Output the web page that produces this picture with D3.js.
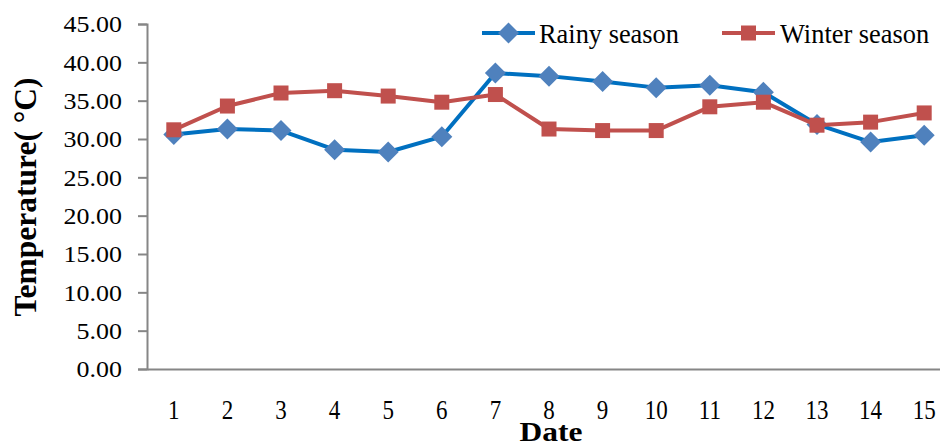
<!DOCTYPE html>
<html>
<head>
<meta charset="utf-8">
<script src="https://cdn.jsdelivr.net/npm/d3@7"></script>
<style>
  html, body { margin: 0; padding: 0; background: #fff; }
  svg { display: block; font-family: "Liberation Serif", "Times New Roman", serif; }
</style>
</head>
<body>
<svg id="chart" width="940" height="446"></svg>
<script>
// Daily temperature, rainy vs winter season
const dates = [1, 2, 3, 4, 5, 6, 7, 8, 9, 10, 11, 12, 13, 14, 15];
const rainy = [30.6, 31.3, 31.1, 28.6, 28.3, 30.3, 38.6, 38.2, 37.5, 36.7, 37.0, 36.1, 31.9, 29.6, 30.5];
const winter = [31.2, 34.3, 36.0, 36.3, 35.6, 34.8, 35.8, 31.3, 31.1, 31.1, 34.2, 34.8, 31.8, 32.2, 33.4];
const yTicks = [0, 5, 10, 15, 20, 25, 30, 35, 40, 45];
const seriesNames = ["Rainy season", "Winter season"];

const svg = d3.select("#chart");
const plotLeft = 147, plotBottom = 369, plotTop = 24;

const x = d3.scaleBand().domain(dates).range([plotLeft, plotLeft + 53.6 * dates.length]).padding(0);
const cx = d => x(d) + x.bandwidth() / 2;
const y = d3.scaleLinear().domain([0, 45]).range([plotBottom, plotTop]);

const axisColor = "#868686";

// Y axis
const yAxis = svg.append("g")
  .attr("transform", `translate(${plotLeft},0)`)
  .call(d3.axisLeft(y).tickValues(yTicks).tickSize(9).tickPadding(0).tickFormat(d => d.toFixed(2)));
yAxis.select(".domain").attr("stroke", axisColor).attr("stroke-width", 2);
yAxis.selectAll(".tick line").attr("stroke", axisColor).attr("stroke-width", 2);
yAxis.selectAll(".tick text")
  .attr("font-family", "Liberation Serif, serif")
  .attr("font-size", 22.6)
  .attr("fill", "#000")
  .attr("x", 0).attr("dy", null)
  .attr("text-anchor", "end")
  .attr("dominant-baseline", "central")
  .attr("transform", "translate(-25,0) scale(1.15,1)");

// X axis
const xAxis = svg.append("g")
  .attr("transform", `translate(0,${plotBottom})`)
  .call(d3.axisBottom(x).tickSize(0).tickPadding(0));
xAxis.select(".domain").attr("stroke", axisColor).attr("stroke-width", 2);
xAxis.selectAll(".tick text")
  .attr("font-family", "Liberation Serif, serif")
  .attr("font-size", 23)
  .attr("fill", "#000")
  .attr("y", 0).attr("dy", null)
  .attr("transform", "translate(0,50) scale(1,1.2)");

// Axis titles
svg.append("text")
  .attr("text-anchor", "middle")
  .attr("font-weight", "bold")
  .attr("font-size", 27.6)
  .attr("transform", "translate(551,441) scale(1.14,1)")
  .text("Date");

svg.append("text")
  .attr("text-anchor", "middle")
  .attr("font-weight", "bold")
  .attr("font-size", 31.5)
  .attr("transform", "translate(36,197) rotate(-90)")
  .text("Temperature( °C)");

// Series
const series = [
  { name: seriesNames[0], values: rainy, line: "#0070C0", marker: "#4F81BD", shape: "diamond" },
  { name: seriesNames[1], values: winter, line: "#C0504D", marker: "#C0504D", shape: "square" }
];

const line = d3.line().x((d, i) => cx(dates[i])).y(d => y(d));

function drawMarker(g, s, px, py) {
  if (s.shape === "diamond") {
    const r = 10.5;
    g.append("path")
      .attr("d", `M${px},${py - r}L${px + r},${py}L${px},${py + r}L${px - r},${py}Z`)
      .attr("fill", s.marker);
  } else {
    const h = 7.5;
    g.append("rect")
      .attr("x", px - h).attr("y", py - h)
      .attr("width", 2 * h).attr("height", 2 * h)
      .attr("fill", s.marker);
  }
}

series.forEach(s => {
  const g = svg.append("g");
  g.append("path")
    .datum(s.values)
    .attr("fill", "none")
    .attr("stroke", s.line)
    .attr("stroke-width", 4)
    .attr("stroke-linejoin", "round")
    .attr("d", line);
  s.values.forEach((v, i) => drawMarker(g, s, cx(dates[i]), y(v)));
});

// Legend
const legendItems = [
  { s: series[0], x0: 482, tx: 539 },
  { s: series[1], x0: 722, tx: 780 }
];
legendItems.forEach(item => {
  const g = svg.append("g");
  g.append("line")
    .attr("x1", item.x0).attr("x2", item.x0 + 53)
    .attr("y1", 33).attr("y2", 33)
    .attr("stroke", item.s.line).attr("stroke-width", 4);
  drawMarker(g, item.s, item.x0 + 26.5, 33);
  g.append("text")
    .attr("x", item.tx).attr("y", 43)
    .attr("font-size", 26.4)
    .attr("fill", "#000")
    .text(item.s.name);
});
</script>
</body>
</html>
